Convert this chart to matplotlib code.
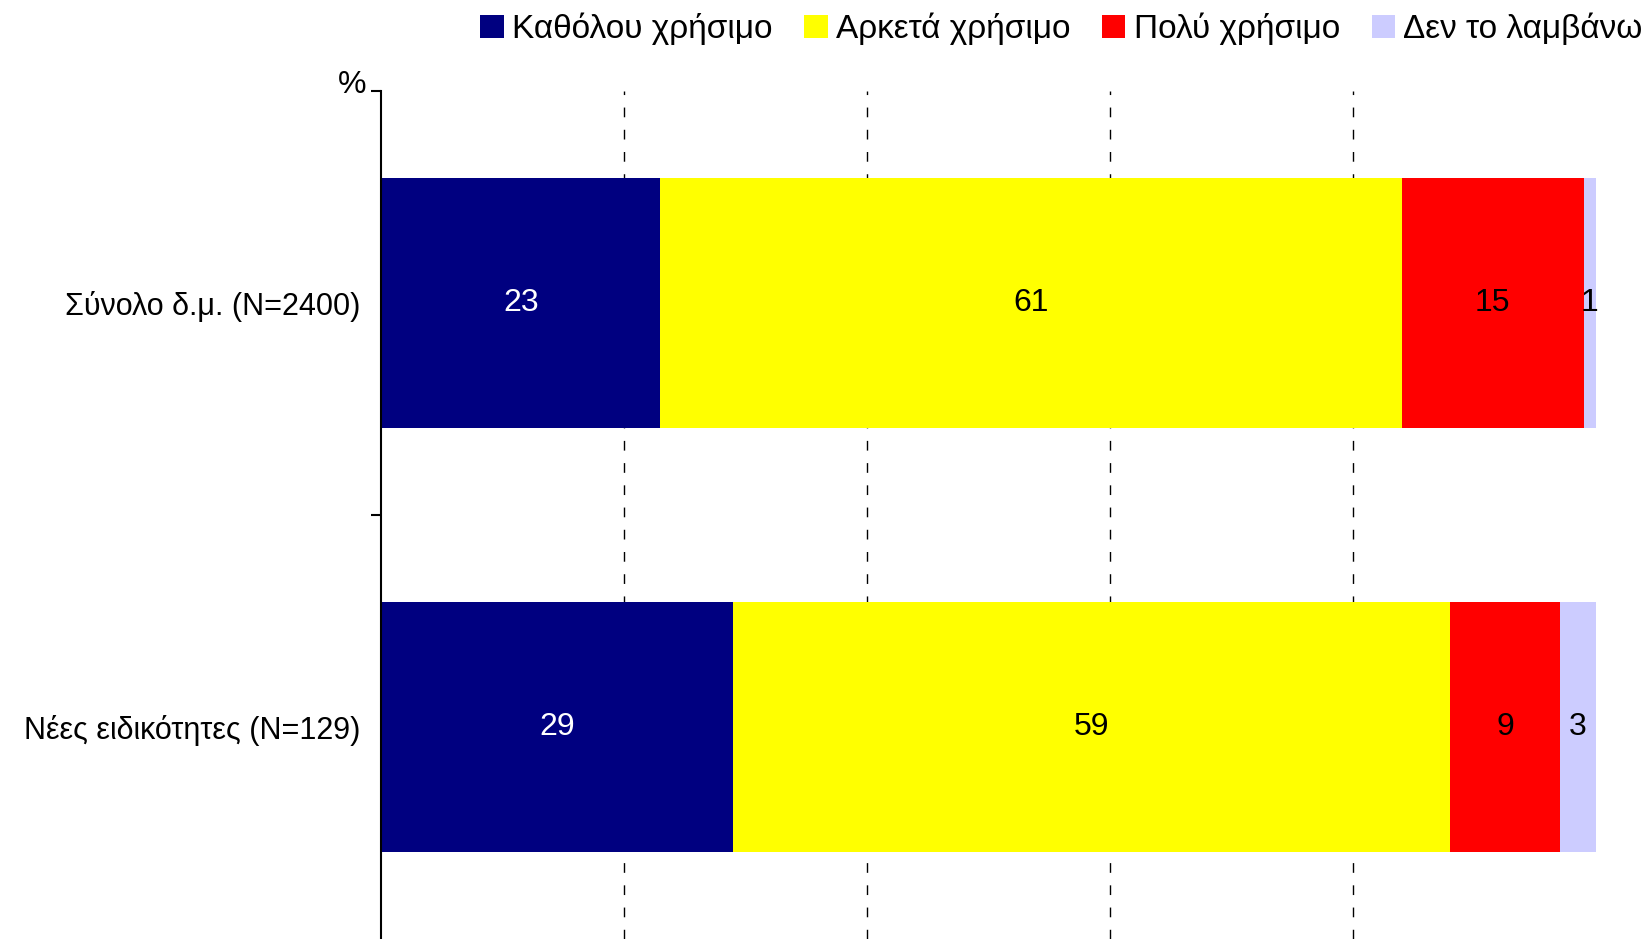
import matplotlib
matplotlib.use("Agg")
import matplotlib.pyplot as plt
from matplotlib.patches import Patch
import numpy as np

plt.rcParams['font.family'] = ['Liberation Sans', 'DejaVu Sans']

categories = ["Σύνολο δ.μ. (N=2400)", "Νέες ειδικότητες (N=129)"]
series_names = ["Καθόλου χρήσιμο", "Αρκετά χρήσιμο", "Πολύ χρήσιμο", "Δεν το λαμβάνω"]
values = {
    "Καθόλου χρήσιμο": [23, 29],
    "Αρκετά χρήσιμο": [61, 59],
    "Πολύ χρήσιμο": [15, 9],
    "Δεν το λαμβάνω": [1, 3],
}
colors = ["#000080", "#FFFF00", "#FF0000", "#CCCCFF"]
text_colors = ["white", "black", "black", "black"]

fig = plt.figure(figsize=(16.51, 9.39), dpi=100)
ax = fig.add_axes([381 / 1651, 0.0, 1215 / 1651, 848 / 939])

y = np.arange(len(categories))
left = np.zeros(len(categories))
for name, col, tcol in zip(series_names, colors, text_colors):
    vals = np.array(values[name], dtype=float)
    ax.barh(y, vals, left=left, height=0.59, color=col, zorder=2)
    for yi, l, v in zip(y, left, vals):
        ax.text(l + v / 2, yi, f"{v:g}", ha="center", va="center",
                color=tcol, fontsize=23, zorder=3)
    left += vals

ax.set_xlim(0, 100)
ax.set_ylim(len(categories) - 0.5, -0.5)

# vertical dashed grid at every 20 %
for gx in [20, 40, 60, 80]:
    ax.axvline(gx, color="black", lw=1.0, ls=(0, (7, 9)), zorder=1)

ax.set_xticks([])
ax.set_yticks([-0.5, 0.5])
ax.set_yticklabels(["", ""])
ax.set_yticks(y, minor=True)
ax.set_yticklabels(categories, minor=True, fontsize=22)
ax.tick_params(axis="y", which="minor", length=0, pad=15)
ax.tick_params(axis="y", which="major", length=7, width=1.5, direction="out")

for s in ["top", "right", "bottom"]:
    ax.spines[s].set_visible(False)
ax.spines["left"].set_linewidth(1.5)

ax.annotate("%", xy=(0, -0.5), xycoords=("axes fraction", "data"),
            xytext=(-15, 6), textcoords="offset pixels",
            ha="right", va="center", fontsize=23)

handles = [Patch(facecolor=c, edgecolor="none") for c in colors]
fig.legend(handles, series_names, loc="center right", ncol=4,
           bbox_to_anchor=(1.0, 1 - 29 / 939), frameon=False, fontsize=24,
           handlelength=0.7, handleheight=0.7, handletextpad=0.25,
           columnspacing=0.95, borderaxespad=0.0, borderpad=0.25)

fig.savefig("out.png", dpi=100)
